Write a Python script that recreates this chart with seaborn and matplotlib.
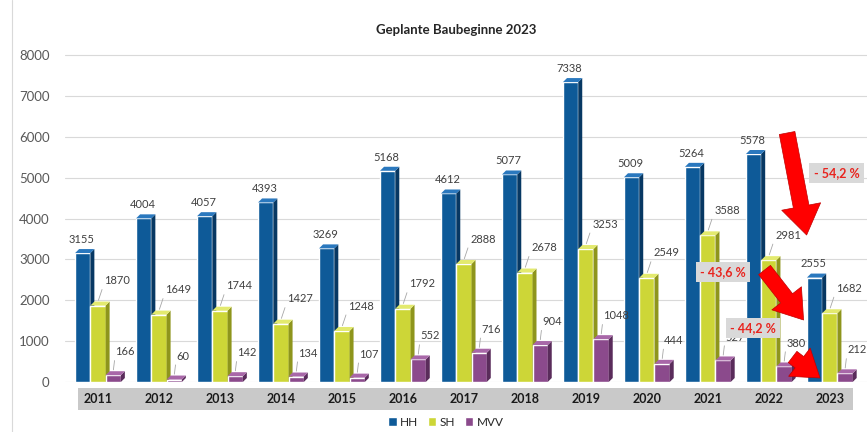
import numpy as np
import pandas as pd
import seaborn as sns
import matplotlib.pyplot as plt
from matplotlib.patches import Rectangle, Polygon
from matplotlib.lines import Line2D

years = ['2011', '2012', '2013', '2014', '2015', '2016', '2017', '2018',
         '2019', '2020', '2021', '2022', '2023']
hh = [3155, 4004, 4057, 4393, 3269, 5168, 4612, 5077, 7338, 5009, 5264, 5578, 2555]
sh = [1870, 1649, 1744, 1427, 1248, 1792, 2888, 2678, 3253, 2549, 3588, 2981, 1682]
mvv = [166, 60, 142, 134, 107, 552, 716, 904, 1048, 444, 527, 380, 212]
series = ['HH', 'SH', 'MVV']
colors = ['#0E5A98', '#CDD637', '#8B4A8C']
side_colors = ['#073863', '#8E951C', '#5A2C5B']
top_colors = ['#2A78BE', '#E3EA6E', '#A867A8']
changes = ['- 54,2 %', '- 43,6 %', '- 44,2 %']

df = pd.DataFrame({
    'Jahr': years * 3,
    'Serie': [s for s in series for _ in years],
    'Wert': hh + sh + mvv,
})

sns.set_theme(style='white')
plt.rcParams['font.family'] = ['Lato', 'DejaVu Sans']

fig = plt.figure(figsize=(8.67, 4.32), dpi=100)
ax = fig.add_axes([65 / 867, 50 / 432, 802 / 867, 337 / 432])
sns.barplot(data=df, x='Jahr', y='Wert', hue='Serie', hue_order=series,
            palette=colors, width=0.75, saturation=1, errorbar=None, ax=ax)

ax.set_xlim(-0.541, 12.61)
ax.set_ylim(0, 8245)
ax.set_yticks(range(0, 8001, 1000))
ax.set_xlabel('')
ax.set_ylabel('')
for s in ax.spines.values():
    s.set_visible(False)
ax.yaxis.grid(True, color='#D9D9D9', lw=0.8)
ax.set_axisbelow(True)
ax.tick_params(axis='y', length=0, pad=11, labelsize=9.5, labelcolor='#595959')
ax.tick_params(axis='x', length=0, pad=8, labelsize=9, labelcolor='#1A1A1A')
for t in ax.get_xticklabels():
    t.set_fontweight('bold')

# category band
ax.add_patch(Rectangle((0.0162, -0.083), 0.9663, 0.065, transform=ax.transAxes,
                       clip_on=False, fc='#C9C9C9', ec='none', zorder=0.5))

# pseudo 3D faces
dx = 4 / 61
dy = 4 / 0.040875
label_offsets = {1: (4.5, 15), 2: (1.5, 14)}
for i, cont in enumerate(ax.containers):
    for bar in cont:
        x0 = bar.get_x(); w = bar.get_width(); h = bar.get_height()
        z = 3 + i * 0.2
        bar.set_zorder(z)
        ax.add_patch(Polygon([(x0 + w, 0), (x0 + w + dx, dy), (x0 + w + dx, h + dy), (x0 + w, h)],
                             closed=True, fc=side_colors[i], ec='none', zorder=z + 0.05))
        ax.add_patch(Polygon([(x0, h), (x0 + dx, h + dy), (x0 + w + dx, h + dy), (x0 + w, h)],
                             closed=True, fc=top_colors[i], ec='none', zorder=z + 0.05))
        cx = x0 + w / 2
        label = f'{int(h)}'
        if i == 0:
            ax.annotate(label, xy=(cx, h + dy), xytext=(-1, 3), textcoords='offset points',
                        ha='center', va='bottom', fontsize=8, color='#404040', zorder=10)
        else:
            ann = ax.annotate(label, xy=(cx, h + dy), xytext=label_offsets[i],
                              textcoords='offset points', ha='left', va='center',
                              fontsize=8, color='#404040',
                              arrowprops=dict(arrowstyle='-', color='#A6A6A6', lw=0.6,
                                              shrinkA=0, shrinkB=1, relpos=(0, 0.3)))
            ann.set_zorder(10)

# legend
sns.move_legend(ax, 'center', bbox_to_anchor=(0.475, -0.119), ncol=3, frameon=False,
                title=None, fontsize=8.5, handlelength=0.7, handleheight=0.7,
                columnspacing=0.8, handletextpad=0.3)

# change annotations
arrows = [((11.30, 6092), (11.62, 3596), 19),
          ((10.93, 2740), (11.57, 1517), 18),
          ((11.39, 612), (11.84, 98), 17)]
boxes = [(12.11, 5113), (10.25, 2691), (10.74, 1321)]
for (tail, tip, ms), (bx, by), txt in zip(arrows, boxes, changes):
    ax.annotate('', xy=tip, xytext=tail, zorder=11,
                arrowprops=dict(arrowstyle='simple,head_length=1.1,head_width=1.5,tail_width=0.6',
                                fc='#FF0000', ec='#C00000', lw=0.5, mutation_scale=ms,
                                shrinkA=0, shrinkB=0))
    ax.text(bx, by, txt, ha='center', va='center', color='#E8251F', fontweight='bold',
            fontsize=9, zorder=12,
            bbox=dict(boxstyle='square,pad=0.35', fc='#D9D9D9', ec='none'))

fig.text(456 / 867, 1 - 30 / 432, 'Geplante Baubeginne 2023', ha='center', va='center',
         fontweight='bold', fontsize=9.5, color='#262626')
fig.add_artist(Line2D([12 / 867, 12 / 867], [0, 1], color='#D9D9D9', lw=0.8))

fig.savefig('out.png', dpi=100)
